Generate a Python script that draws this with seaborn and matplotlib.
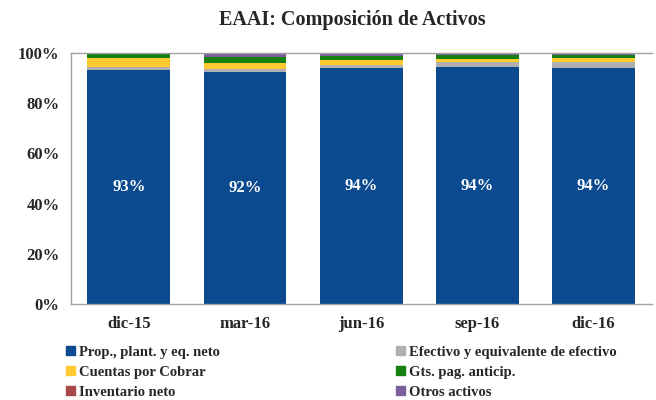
import numpy as np
import pandas as pd
import matplotlib
matplotlib.use("Agg")
import matplotlib.pyplot as plt
from matplotlib.patches import Patch
import seaborn as sns

# === Datos (% del activo total)
periodos = ["dic-15", "mar-16", "jun-16", "sep-16", "dic-16"]
ppe = [93.2, 92.4, 93.9, 94.2, 93.8]
efectivo = [1.3, 1.3, 1.3, 2.0, 2.5]
cuentas = [3.6, 2.1, 1.8, 1.5, 1.7]
gastos = [1.3, 2.6, 1.7, 1.4, 1.2]
inventario = [0.6, 0.1, 0.1, 0.1, 0.1]
otros = [0.0, 1.5, 1.2, 0.8, 0.7]

series = ["Prop., plant. y eq. neto", "Efectivo y equivalente de efectivo",
          "Cuentas por Cobrar", "Gts. pag. anticip.", "Inventario neto", "Otros activos"]
colores = ["#0B4A8F", "#B0B0B0", "#FFC930", "#168010", "#A84848", "#7A5E9E"]

df = pd.DataFrame({"periodo": periodos, series[0]: ppe, series[1]: efectivo,
                   series[2]: cuentas, series[3]: gastos, series[4]: inventario,
                   series[5]: otros})

sns.set_style("white")
plt.rcParams["font.family"] = ["Liberation Serif", "DejaVu Serif"]
plt.rcParams["font.weight"] = "bold"

fig = plt.figure(figsize=(6.56, 4), dpi=100)
ax = fig.add_axes([0.1078, 0.239, 0.8856, 0.629])

# === Barras apiladas: acumulado, de arriba hacia abajo
acum = df[series].cumsum(axis=1)
for s, c in reversed(list(zip(series, colores))):
    sns.barplot(x=df["periodo"], y=acum[s], color=c, width=0.712,
                linewidth=0, saturation=1, ax=ax)

# etiquetas dentro de la barra azul
for i, v in enumerate(ppe):
    ax.text(i, v / 2, f"{v:.0f}%", ha="center", va="center", color="white",
            fontsize=12, fontweight="bold")

# === Ejes
ax.set_ylim(0, 100)
ax.set_xlim(-0.5, 4.5)
ax.set_yticks(np.arange(0, 101, 20))
ax.set_yticklabels([f"{t}%" for t in range(0, 101, 20)], fontsize=12, fontweight="bold")
ax.set_xticks(range(5))
ax.set_xticklabels(periodos, fontsize=12, fontweight="bold")
ax.set_xticks(np.arange(-0.5, 5, 1), minor=True)
ax.tick_params(axis="x", which="major", length=0, pad=8)
ax.tick_params(axis="x", which="minor", length=4, color="#A0A0A0", width=1)
ax.tick_params(axis="y", length=5, color="#A0A0A0", width=1, pad=3)
ax.set_xlabel("")
ax.set_ylabel("")
for lado in ["left", "bottom", "top"]:
    ax.spines[lado].set_color("#A0A0A0")
    ax.spines[lado].set_linewidth(1)
ax.spines["right"].set_visible(False)

# === Título
fig.text(0.537, 1 - 25 / 400, "EAAI: Composición de Activos", ha="center", va="baseline",
         fontsize=14.5, fontweight="bold")

# === Leyenda (dos columnas)
h = [Patch(color=c) for c in colores]
kw = dict(frameon=False, fontsize=10.5, handlelength=0.6, handleheight=0.6,
          handletextpad=0.3, labelspacing=0.48, borderpad=0, borderaxespad=0)
leg1 = fig.legend([h[0], h[2], h[4]], [series[0], series[2], series[4]],
                  loc="upper left", bbox_to_anchor=(66 / 656, 1 - 346 / 400), **kw)
leg2 = fig.legend([h[1], h[3], h[5]], [series[1], series[3], series[5]],
                  loc="upper left", bbox_to_anchor=(396 / 656, 1 - 346 / 400), **kw)

fig.savefig("out.png", dpi=100)
